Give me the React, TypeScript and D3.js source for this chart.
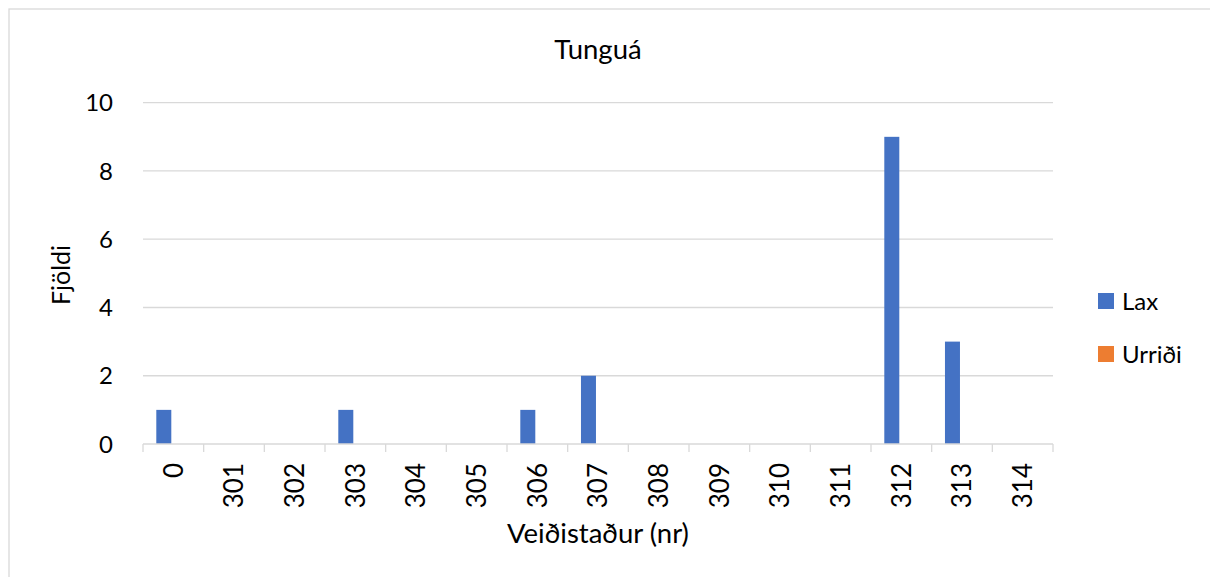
import React from "react";
import * as d3 from "d3";

const categories = ["0", "301", "302", "303", "304", "305", "306", "307", "308", "309", "310", "311", "312", "313", "314"];
const laxValues = [1, 0, 0, 1, 0, 0, 1, 2, 0, 0, 0, 0, 9, 3, 0];
const urridiValues = [0, 0, 0, 0, 0, 0, 0, 0, 0, 0, 0, 0, 0, 0, 0];
const seriesNames = ["Lax", "Urriði"];
const seriesColors = ["#4472C4", "#ED7D31"];
const yTicks = [0, 2, 4, 6, 8, 10];

const W = 1210;
const H = 577;
const FONT = "Lato, 'Open Sans', sans-serif";

export default function App() {
  const left = 143, right = 1053, top = 102.7, bottom = 444;
  const x = d3.scaleBand<string>().domain(categories).range([left, right]).paddingInner(0).paddingOuter(0);
  const y = d3.scaleLinear().domain([0, 10]).range([bottom, top]);
  const bw = x.bandwidth();
  const barW = 15;
  const offset = 13.3;
  const series = [laxValues, urridiValues];

  return (
    <svg width={W} height={H} style={{ position: "absolute", left: 0, top: 0, background: "#fff" }}>
      <rect x={9} y={9} width={W + 20} height={H + 20} fill="#fff" stroke="#D9D9D9" strokeWidth={1.3} />
      <text x={598} y={59} textAnchor="middle" fontFamily={FONT} fontSize={27.5} fill="#000">Tunguá</text>
      {yTicks.map((t) => (
        <g key={t}>
          {t !== 0 && <line x1={left} x2={right} y1={y(t)} y2={y(t)} stroke="#D9D9D9" strokeWidth={1.3} />}
          <text x={113} y={y(t)} dy="0.36em" textAnchor="end" fontFamily={FONT} fontSize={24} fill="#000">{t}</text>
        </g>
      ))}
      {series.map((vals, si) =>
        vals.map((v, i) =>
          v > 0 ? (
            <rect key={`${si}-${i}`} x={(x(categories[i]) as number) + offset + si * barW} y={y(v)} width={barW} height={y(0) - y(v)} fill={seriesColors[si]} />
          ) : null
        )
      )}
      <line x1={left} x2={right} y1={bottom} y2={bottom} stroke="#D9D9D9" strokeWidth={1.3} />
      {categories.map((c, i) => (
        <line key={"t" + c} x1={left + i * bw} x2={left + i * bw} y1={bottom} y2={bottom + 8} stroke="#D9D9D9" strokeWidth={1.3} />
      ))}
      <line x1={right} x2={right} y1={bottom} y2={bottom + 8} stroke="#D9D9D9" strokeWidth={1.3} />
      {categories.map((c) => {
        const cx = (x(c) as number) + bw / 2;
        return (
          <text key={"l" + c} transform={`translate(${cx},463) rotate(-90)`} textAnchor="end" dy="0.36em" fontFamily={FONT} fontSize={26} fill="#000">{c}</text>
        );
      })}
      <text transform={`translate(70,275) rotate(-90)`} textAnchor="middle" fontFamily={FONT} fontSize={25} fill="#000">Fjöldi</text>
      <text x={598} y={543} textAnchor="middle" fontFamily={FONT} fontSize={27.5} fill="#000">Veiðistaður (nr)</text>
      {seriesNames.map((n, i) => (
        <g key={n}>
          <rect x={1098} y={293 + i * 53} width={16} height={16} fill={seriesColors[i]} />
          <text x={1122} y={301 + i * 53} dy="0.36em" fontFamily={FONT} fontSize={24} fill="#000">{n}</text>
        </g>
      ))}
    </svg>
  );
}
